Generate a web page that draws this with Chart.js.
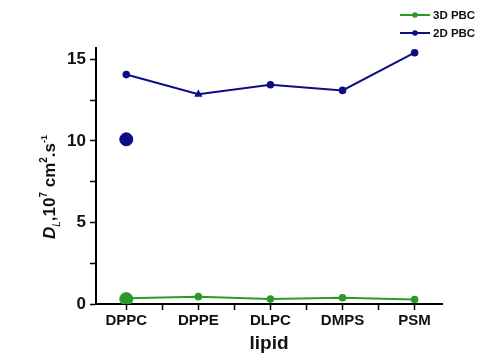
<!DOCTYPE html>
<html>
<head>
<meta charset="utf-8">
<script src="https://cdn.jsdelivr.net/npm/chart.js@4.4.0/dist/chart.umd.min.js"></script>
<style>
  html, body { margin: 0; padding: 0; background: #fff; }
  #wrap { width: 485px; height: 359px; }
</style>
</head>
<body>
<div id="wrap"><canvas id="myChart" width="485" height="359"></canvas></div>
<script>
// dados
const lipids = ['DPPC', 'DPPE', 'DLPC', 'DMPS', 'PSM'];
const pbc3d = [0.35, 0.45, 0.3, 0.38, 0.28];
const pbc2d = [14.07, 12.86, 13.45, 13.1, 15.41];
const bigDot2d = 10.1;   // ponto isolado azul em DPPC
const bigDot3d = 0.3;    // ponto isolado verde em DPPC
const yTicks = [0, 2.5, 5, 7.5, 10, 12.5, 15];
const yLabels = ['0', '', '5', '', '10', '', '15'];

const green = '#2b9a2b';
const navy = '#0d0d86';
const font = "'Liberation Sans', Arial, sans-serif";

function toPoints(arr) {
    return arr.map(function (v, i) { return { x: i, y: v }; });
}

// legenda desenhada à mão no canto superior direito
const legendPlugin = {
    id: 'cornerLegend',
    afterDraw: function (chart) {
        const c = chart.ctx;
        const items = [['3D PBC', green, 15], ['2D PBC', navy, 33]];
        c.save();
        items.forEach(function (it) {
            c.strokeStyle = it[1];
            c.fillStyle = it[1];
            c.lineWidth = 2;
            c.beginPath();
            c.moveTo(400, it[2]);
            c.lineTo(430, it[2]);
            c.stroke();
            c.beginPath();
            c.arc(415, it[2], 2.8, 0, Math.PI * 2);
            c.fill();
            c.fillStyle = '#111';
            c.font = 'bold 11.5px ' + font;
            c.textBaseline = 'middle';
            c.fillText(it[0], 433, it[2] + 0.5);
        });
        c.restore();
    }
};

// título do eixo y com sub/sobrescritos
const yTitlePlugin = {
    id: 'yTitle',
    afterDraw: function (chart) {
        const c = chart.ctx;
        const parts = [
            ['D', 'bold italic 17px', 0],
            ['L', 'italic 10px', 5],
            [',10', 'bold 17px', 0],
            ['7', 'bold 10px', -8],
            [' cm', 'bold 17px', 0],
            ['2', 'bold 10px', -8],
            ['.s', 'bold 17px', 0],
            ['-1', 'bold 9px', -8]
        ];
        c.save();
        let total = 0;
        parts.forEach(function (p) {
            c.font = p[1] + ' ' + font;
            total += c.measureText(p[0]).width;
        });
        c.translate(49, 187);
        c.rotate(-Math.PI / 2);
        c.fillStyle = '#111';
        c.textBaseline = 'alphabetic';
        let x = -total / 2;
        parts.forEach(function (p) {
            c.font = p[1] + ' ' + font;
            c.fillText(p[0], x, 6 + p[2]);
            x += c.measureText(p[0]).width;
        });
        c.restore();
    }
};

const ctx = document.getElementById('myChart').getContext('2d');
const myChart = new Chart(ctx, {
    type: 'line',
    data: {
        datasets: [
            {
                label: '3D PBC',
                data: toPoints(pbc3d),
                borderColor: green,
                backgroundColor: green,
                borderWidth: 2,
                pointRadius: 2.8,
                pointHoverRadius: 2.8,
                tension: 0
            },
            {
                label: '2D PBC',
                data: toPoints(pbc2d),
                borderColor: navy,
                backgroundColor: navy,
                borderWidth: 2,
                pointRadius: 2.8,
                pointHoverRadius: 2.8,
                // o ponto de DPPE aparece como triângulo na figura
                pointStyle: ['circle', 'triangle', 'circle', 'circle', 'circle'],
                tension: 0
            },
            {
                label: 'big2d',
                data: [{ x: 0, y: bigDot2d }],
                borderColor: navy,
                backgroundColor: navy,
                showLine: false,
                pointRadius: 6.5
            },
            {
                label: 'big3d',
                data: [{ x: 0, y: bigDot3d }],
                borderColor: green,
                backgroundColor: green,
                showLine: false,
                pointRadius: 6.5
            }
        ]
    },
    plugins: [legendPlugin, yTitlePlugin],
    options: {
        responsive: false,
        animation: false,
        layout: { padding: { top: 48, right: 43, left: 0, bottom: 0 } },
        plugins: {
            legend: { display: false },
            tooltip: { enabled: false }
        },
        scales: {
            x: {
                type: 'linear',
                min: -0.42,
                max: 4.38,
                afterBuildTicks: function (scale) {
                    const t = [];
                    for (let i = 0; i <= 8; i++) t.push({ value: i / 2 });
                    scale.ticks = t;
                },
                afterFit: function (scale) { scale.height = 55; },
                border: { display: true, color: '#000', width: 2 },
                grid: { drawOnChartArea: false, tickLength: 6, tickColor: '#000', tickWidth: 1.5 },
                ticks: {
                    autoSkip: false,
                    maxRotation: 0,
                    padding: 2,
                    color: '#111',
                    font: { family: font, size: 15, weight: 'bold' },
                    callback: function (value) {
                        return Number.isInteger(value) ? lipids[value] : '';
                    }
                },
                title: {
                    display: true,
                    text: 'lipid',
                    color: '#111',
                    padding: { top: 3 },
                    font: { family: font, size: 19, weight: 'bold' }
                }
            },
            y: {
                min: 0,
                max: 15.7,
                afterBuildTicks: function (scale) {
                    scale.ticks = yTicks.map(function (v) { return { value: v }; });
                },
                afterFit: function (scale) { scale.width = 96; },
                border: { display: true, color: '#000', width: 2 },
                grid: { drawOnChartArea: false, tickLength: 6, tickColor: '#000', tickWidth: 1.5 },
                ticks: {
                    autoSkip: false,
                    padding: 4,
                    color: '#111',
                    font: { family: font, size: 17, weight: 'bold' },
                    callback: function (value, index) {
                        return yLabels[index];
                    }
                }
            }
        }
    }
});
</script>
</body>
</html>
